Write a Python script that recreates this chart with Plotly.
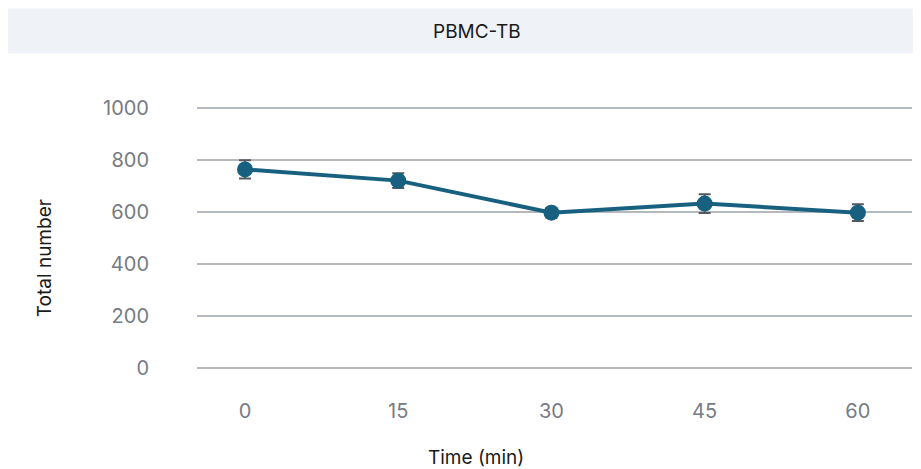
import plotly.graph_objects as go

time_min = [0, 15, 30, 45, 60]
total_number = [763, 720, 597, 632, 597]
error_sd = [35, 28, 18, 36, 32]
y_ticks = [0, 200, 400, 600, 800, 1000]

# page offset (browser body margin) is 8px
OFF = 8
W, H = 921, 469
# target plot area in screenshot coords
x_left, x_right = 197, 912
y_top, y_bot = 104.7, 370.9
L = x_left - OFF
R = W - (x_right - OFF)
T = y_top - OFF
B = H - (y_bot - OFF)
pw, ph = W - L - R, H - T - B

def px(x):
    return (x - OFF - L) / pw

def py(y):
    return (H - B - (y - OFF)) / ph

FONT = "Inter, Roboto, sans-serif"

fig = go.Figure()
fig.add_trace(go.Scatter(
    x=time_min, y=total_number,
    mode="lines+markers",
    line=dict(color="#17607f", width=4),
    marker=dict(color="#17607f", size=16),
    error_y=dict(type="data", array=error_sd, visible=True,
                 color="#55595e", thickness=2, width=6),
    showlegend=False,
))

fig.add_shape(type="rect", xref="paper", yref="paper",
              x0=px(0), x1=px(940), y0=py(53), y1=py(8),
              fillcolor="#eff3f8", line=dict(width=0), layer="below")

fig.add_annotation(text="PBMC-TB", xref="paper", yref="paper",
                   x=px(477), y=py(31), showarrow=False,
                   xanchor="center", yanchor="middle",
                   font=dict(family=FONT, size=19, color="#1a1a1a"))
fig.add_annotation(text="Total number", xref="paper", yref="paper",
                   x=px(44), y=py(258), showarrow=False, textangle=-90,
                   xanchor="center", yanchor="middle",
                   font=dict(family=FONT, size=19, color="#1a1a1a"))
fig.add_annotation(text="Time (min)", xref="paper", yref="paper",
                   x=px(476), y=py(457), showarrow=False,
                   xanchor="center", yanchor="middle",
                   font=dict(family=FONT, size=19, color="#1a1a1a"))

fig.update_layout(
    width=W, height=H,
    margin=dict(l=L, r=R, t=T, b=B, pad=0),
    paper_bgcolor="white", plot_bgcolor="white",
    font=dict(family=FONT),
)
fig.update_xaxes(
    range=[-4.7, 65.3], tickvals=time_min, ticktext=[str(t) for t in time_min],
    showgrid=False, zeroline=False, showline=False,
    tickfont=dict(size=20, color="#767b84"), ticklabelstandoff=26,
)
fig.update_yaxes(
    range=[-10, 1010], tickvals=y_ticks,
    showgrid=True, gridcolor="#b5b8bc", gridwidth=2,
    zeroline=False, showline=False,
    tickfont=dict(size=20, color="#767b84"), ticklabelstandoff=47,
)

fig.write_html("out.html")
